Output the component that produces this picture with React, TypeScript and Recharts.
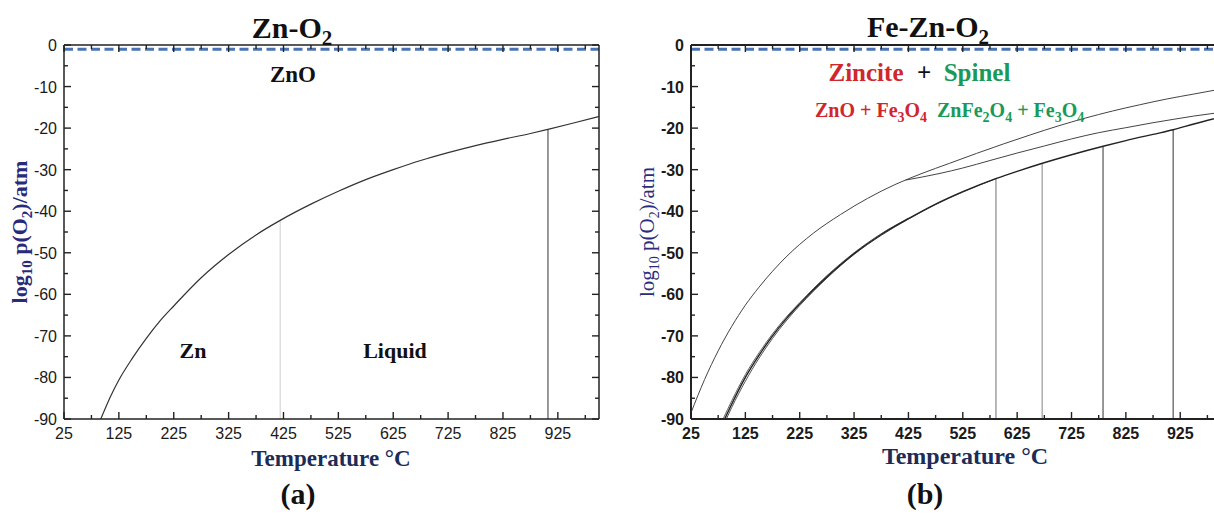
import React from 'react';
import { ComposedChart, Line, XAxis, YAxis, ReferenceLine } from 'recharts';

// ---- shared axes ----
const xTicks = [25, 75, 125, 175, 225, 275, 325, 375, 425, 475, 525, 575, 625, 675, 725, 775, 825, 875, 925, 975];
const xLabelTicks = [25, 125, 225, 325, 425, 525, 625, 725, 825, 925];
const yTicks = [0, -5, -10, -15, -20, -25, -30, -35, -40, -45, -50, -55, -60, -65, -70, -75, -80, -85, -90];
const yLabelTicks = [0, -10, -20, -30, -40, -50, -60, -70, -80, -90];
const airLogP = -1.0;

// ---- panel (a): Zn-O2 ----
const znT = [92, 110, 125, 150, 175, 200, 225, 275, 325, 375, 419, 475, 525, 575, 625, 675, 725, 775, 825, 875, 907, 950, 1000];
const znLogP = [-90, -84.5, -80.6, -75.3, -70.6, -66.4, -62.8, -56.0, -50.4, -45.7, -42.2, -38.3, -35.2, -32.4, -30.0, -27.8, -25.9, -24.2, -22.7, -21.3, -20.3, -18.9, -17.2];
const znMelt = { t: 419, top: -42.2 };
const znBoil = { t: 907, top: -20.3 };

// ---- panel (b): Fe-Zn-O2 ----
const feT = [25, 50, 75, 100, 125, 150, 200, 250, 300, 350, 400, 450, 500, 550, 600, 650, 700, 750, 800, 850, 900, 950, 1000];
const feLogP = [-88.5, -80.5, -73.6, -67.7, -62.6, -58.3, -51.0, -45.3, -40.8, -36.9, -33.6, -30.9, -28.5, -26.1, -23.8, -21.6, -19.5, -17.6, -15.9, -14.4, -13.0, -11.8, -10.6];

const spT = [420, 483, 525, 575, 625, 675, 725, 775, 825, 875, 912, 950, 1000];
const spLogP = [-32.5, -30.9, -29.6, -27.8, -26.0, -24.3, -22.6, -21.1, -19.9, -18.7, -17.9, -17.1, -16.2];

const bT = [87, 100, 125, 150, 175, 200, 225, 275, 325, 375, 425, 475, 525, 587, 625, 673, 725, 785, 825, 875, 912, 950, 1000];
const bLogP = [-90, -86.4, -80.0, -74.7, -70.0, -65.9, -62.3, -55.8, -50.2, -45.6, -41.8, -38.3, -35.3, -32.1, -30.4, -28.4, -26.4, -24.3, -23.0, -21.5, -20.4, -19.0, -17.3];
const b2T = [90, 100, 125, 150, 175, 200, 225, 275, 325, 375, 425, 475, 525, 587];
const b2LogP = [-90, -87.2, -80.9, -75.4, -70.6, -66.4, -62.7, -56.1, -50.4, -45.8, -41.9, -38.4, -35.4, -32.1];
const b3T = [84, 100, 125, 150, 175, 200, 225, 275, 325, 375, 425];
const b3LogP = [-90, -85.6, -79.3, -74.1, -69.5, -65.5, -62.0, -55.5, -50.0, -45.4, -41.7];

const feVertT = [586, 671, 783, 912];
const feVertTop = [-32.1, -28.5, -24.4, -20.4];
const feVertColor = ['#888', '#999', '#555', '#555'];

const toRows = (ts: number[], vs: number[]) => ts.map((t, i) => ({ t, v: vs[i] }));

const sans = '"Liberation Sans", Arial, sans-serif';
const serif = '"Liberation Serif", "Times New Roman", serif';

function AxisTick(props: any) {
  const { x, y, payload, side, bold } = props;
  const v = payload.value;
  const isX = side === 'bottom' || side === 'top';
  const major = isX ? xLabelTicks.includes(v) : yLabelTicks.includes(v);
  const len = major ? 7 : 4;
  let x2 = x;
  let y2 = y;
  if (side === 'bottom') y2 = y - len;
  if (side === 'top') y2 = y + len;
  if (side === 'left') x2 = x + len;
  if (side === 'right') x2 = x - len;
  const font = { fontFamily: sans, fontSize: 16, fontWeight: bold ? 700 : 400, fill: '#1a1a1a' };
  return (
    <g>
      <line x1={x} y1={y} x2={x2} y2={y2} stroke="#222" strokeWidth={1.4} />
      {major && side === 'bottom' && (
        <text x={x} y={y + 20} textAnchor="middle" {...font}>{v}</text>
      )}
      {major && side === 'left' && (
        <text x={x - 7} y={y + 6} textAnchor="end" {...font}>{v}</text>
      )}
    </g>
  );
}

function Panel({ width, leftAxis, bold, axisW, children }: any) {
  const line = { stroke: '#222', strokeWidth: axisW };
  return (
    <ComposedChart width={width} height={521} margin={{ top: 44, right: 0, bottom: 72, left: 0 }}>
      <XAxis
        dataKey="t"
        type="number"
        domain={[25, 1000]}
        ticks={xTicks}
        interval={0}
        allowDataOverflow
        height={30}
        tickSize={0}
        tickMargin={0}
        axisLine={line}
        tickLine={false}
        tick={(p: any) => <AxisTick {...p} side="bottom" bold={bold} />}
      />
      <XAxis
        xAxisId="top"
        orientation="top"
        dataKey="t"
        type="number"
        domain={[25, 1000]}
        ticks={xTicks}
        interval={0}
        allowDataOverflow
        height={1}
        tickSize={0}
        tickMargin={0}
        axisLine={line}
        tickLine={false}
        tick={(p: any) => <AxisTick {...p} side="top" />}
      />
      <YAxis
        type="number"
        domain={[-90, 0]}
        ticks={yTicks}
        interval={0}
        allowDataOverflow
        width={leftAxis}
        tickSize={0}
        tickMargin={0}
        axisLine={line}
        tickLine={false}
        tick={(p: any) => <AxisTick {...p} side="left" bold={bold} />}
      />
      <YAxis
        yAxisId="right"
        orientation="right"
        type="number"
        domain={[-90, 0]}
        ticks={yTicks}
        interval={0}
        allowDataOverflow
        width={8}
        tickSize={0}
        tickMargin={0}
        axisLine={line}
        tickLine={false}
        tick={(p: any) => <AxisTick {...p} side="right" />}
      />
      <ReferenceLine y={airLogP} stroke="#4a74b4" strokeWidth={3} strokeDasharray="9 4.5" />
      {children}
    </ComposedChart>
  );
}

function Sub({ children, size, dy = 6 }: any) {
  return (
    <>
      <tspan dy={dy} fontSize={size}>{children}</tspan>
      <tspan dy={-dy}>{'\u200b'}</tspan>
    </>
  );
}

export default function App() {
  const navy = '#1d2b57';
  const red = '#d0262e';
  const green = '#1a9a58';
  return (
    <div style={{ position: 'fixed', left: 0, top: 0, width: 1214, height: 521, overflow: 'hidden', background: '#fff' }}>
      <div style={{ position: 'absolute', left: 0, top: 0 }}>
        <Panel width={607} leftAxis={64} bold={false} axisW={1.5}>
          <ReferenceLine segment={[{ x: znMelt.t, y: -90 }, { x: znMelt.t, y: znMelt.top }]} stroke="#cfcfcf" strokeWidth={1} />
          <ReferenceLine segment={[{ x: znBoil.t, y: -90 }, { x: znBoil.t, y: znBoil.top }]} stroke="#555" strokeWidth={1.2} />
          <Line data={toRows(znT, znLogP)} dataKey="v" type="monotone" stroke="#333" strokeWidth={1.2} dot={false} isAnimationActive={false} />
        </Panel>
      </div>
      <div style={{ position: 'absolute', left: 607, top: 0 }}>
        <Panel width={622} leftAxis={84} bold={true} axisW={2}>
          {feVertT.map((t, i) => (
            <ReferenceLine key={t} segment={[{ x: t, y: -90 }, { x: t, y: feVertTop[i] }]} stroke={feVertColor[i]} strokeWidth={1.2} />
          ))}
          <Line data={toRows(feT, feLogP)} dataKey="v" type="monotone" stroke="#444" strokeWidth={1} dot={false} isAnimationActive={false} />
          <Line data={toRows(spT, spLogP)} dataKey="v" type="monotone" stroke="#444" strokeWidth={1} dot={false} isAnimationActive={false} />
          <Line data={toRows(b3T, b3LogP)} dataKey="v" type="monotone" stroke="#666" strokeWidth={1} dot={false} isAnimationActive={false} />
          <Line data={toRows(b2T, b2LogP)} dataKey="v" type="monotone" stroke="#555" strokeWidth={1} dot={false} isAnimationActive={false} />
          <Line data={toRows(bT, bLogP)} dataKey="v" type="monotone" stroke="#222" strokeWidth={1.4} dot={false} isAnimationActive={false} />
        </Panel>
      </div>
      <svg width={1214} height={521} style={{ position: 'absolute', left: 0, top: 0, pointerEvents: 'none' }}>
        {/* panel (a) text */}
        <text x={292} y={38} textAnchor="middle" fontFamily={serif} fontWeight={700} fontSize={30} fill="#111">
          Zn-O<Sub size={21} dy={7}>2</Sub>
        </text>
        <text x={293} y={82} textAnchor="middle" fontFamily={serif} fontWeight={700} fontSize={23} fill="#111">ZnO</text>
        <text x={193} y={358} textAnchor="middle" fontFamily={serif} fontWeight={700} fontSize={22} fill="#111">Zn</text>
        <text x={395} y={358} textAnchor="middle" fontFamily={serif} fontWeight={700} fontSize={22} fill="#111">Liquid</text>
        <text x={331} y={466} textAnchor="middle" fontFamily={serif} fontWeight={700} fontSize={23} fill={navy}>Temperature °C</text>
        <text x={298} y={504} textAnchor="middle" fontFamily={serif} fontWeight={700} fontSize={30} fill="#111">(a)</text>
        <text transform="translate(27,232) rotate(-90)" textAnchor="middle" fontFamily={serif} fontWeight={700} fontSize={22} fill="#2a2a7a">
          log<Sub size={15} dy={5}>10</Sub> p(O<Sub size={15} dy={5}>2</Sub>)/atm
        </text>

        {/* panel (b) text */}
        <text x={928} y={37} textAnchor="middle" fontFamily={serif} fontWeight={700} fontSize={30} fill="#111">
          Fe-Zn-O<Sub size={21} dy={7}>2</Sub>
        </text>
        <text x={866} y={81} textAnchor="middle" fontFamily={serif} fontWeight={700} fontSize={25} fill={red}>Zincite</text>
        <text x={924} y={81} textAnchor="middle" fontFamily={serif} fontWeight={700} fontSize={25} fill="#111">+</text>
        <text x={977} y={81} textAnchor="middle" fontFamily={serif} fontWeight={700} fontSize={25} fill={green}>Spinel</text>
        <text x={815} y={117} fontFamily={serif} fontWeight={700} fontSize={20} fill={red}>
          ZnO + Fe<Sub size={14} dy={5}>3</Sub>O<Sub size={14} dy={5}>4</Sub>
        </text>
        <text x={937} y={117} fontFamily={serif} fontWeight={700} fontSize={20} fill={green}>
          ZnFe<Sub size={14} dy={5}>2</Sub>O<Sub size={14} dy={5}>4</Sub> + Fe<Sub size={14} dy={5}>3</Sub>O<Sub size={14} dy={5}>4</Sub>
        </text>
        <text x={965} y={464} textAnchor="middle" fontFamily={serif} fontWeight={700} fontSize={24} fill={navy}>Temperature °C</text>
        <text x={925} y={504} textAnchor="middle" fontFamily={serif} fontWeight={700} fontSize={30} fill="#111">(b)</text>
        <text transform="translate(654,232) rotate(-90)" textAnchor="middle" fontFamily={serif} fontWeight={400} fontSize={21} fill="#2c2c7c">
          log<Sub size={14} dy={5}>10</Sub> p(O<Sub size={14} dy={5}>2</Sub>)/atm
        </text>
      </svg>
    </div>
  );
}
